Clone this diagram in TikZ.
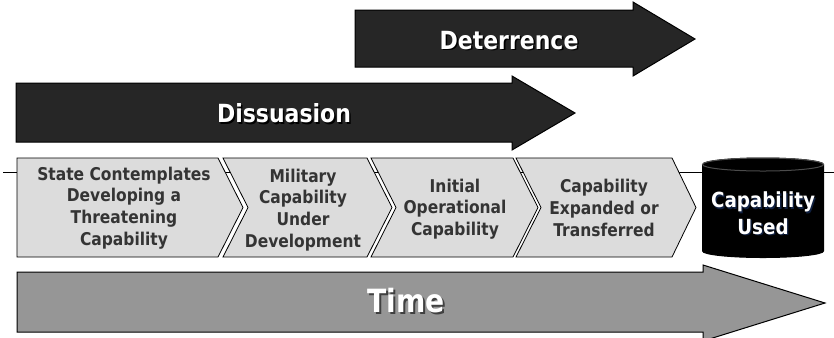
\documentclass[tikz,border=0pt]{standalone}
\usepackage{fontspec}
\setmainfont{DejaVu Sans}[FakeStretch=0.88]
\definecolor{arrowgray}{RGB}{38,38,38}
\definecolor{timegray}{RGB}{150,150,150}
\definecolor{boxgray}{RGB}{220,220,220}
\definecolor{boxtext}{RGB}{52,52,52}
\definecolor{navyedge}{RGB}{16,32,64}
\newcommand{\shadowed}[3]{\makebox[0pt][l]{\hspace*{#1}\raisebox{-#1}{\textcolor{#2}{#3}}}#3}

\tikzset{every picture/.style={line width=0.75pt}}

\begin{document}
\begin{tikzpicture}[x=0.75pt,y=0.75pt,yscale=-1,xscale=1,
    bigarrow/.style={draw=black,fill=arrowgray},
    timearrow/.style={draw=black,fill=timegray},
    chevron/.style={draw=black,fill=boxgray,line width=0.6pt},
    steplabel/.style={inner sep=0pt,align=center,text=boxtext,font=\bfseries\fontsize{13.2}{16.3}\selectfont},
    arrowlabel/.style={inner sep=0pt,text=white,font=\bfseries\fontsize{18.75}{22}\selectfont},
    timelabel/.style={inner sep=0pt,text=white,font=\bfseries\fontsize{24}{28}\selectfont},
    usedlabel/.style={inner sep=0pt,align=center,text=white,font=\bfseries\fontsize{15.6}{20}\selectfont}]
    \useasboundingbox (0,0) rectangle (834,337);

    %Straight Lines
    \draw    (3,172) -- (834,172) ;

    %Shape: Right Arrow
    \draw [bigarrow] (355,10) -- (633,10) -- (633,2) -- (695,39) -- (633,76) -- (633,67) -- (355,67) -- cycle ;
    %Shape: Right Arrow
    \draw [bigarrow] (16,83) -- (512,83) -- (512,76) -- (575,113) -- (512,150) -- (512,142) -- (16,142) -- cycle ;
    %Shape: Right Arrow
    \draw [timearrow] (17,272) -- (703,272) -- (703,265) -- (825,303) -- (703,341) -- (703,332) -- (17,332) -- cycle ;

    %Shape: Chevron
    \draw [chevron] (17,158) -- (218,158) -- (243,207.5) -- (218,257) -- (17,257) -- cycle ;
    %Shape: Chevron
    \draw [chevron] (223,158) -- (367,158) -- (392,207.5) -- (367,257) -- (223,257) -- (248,207.5) -- cycle ;
    %Shape: Chevron
    \draw [chevron] (371,158) -- (513,158) -- (538,207.5) -- (513,257) -- (371,257) -- (396,207.5) -- cycle ;
    %Shape: Chevron
    \draw [chevron] (516,158) -- (672,158) -- (696,207.5) -- (672,257) -- (516,257) -- (541,207.5) -- cycle ;

    %Shape: Can
    \draw [fill=black] (702.5,164.5) -- (702.5,251) arc [start angle=180,end angle=0,x radius=60.5,y radius=6.5] -- (823.5,164.5) arc [start angle=0,end angle=-180,x radius=60.5,y radius=6.5] -- cycle ;
    \draw [color=black!70] (763,164.5) ellipse [x radius=60.5,y radius=6.5] ;

    % Text Node
    \draw (124,208) node [steplabel] (state) {State Contemplates\\Developing a\\Threatening\\Capability};
    % Text Node
    \draw (303,210) node [steplabel] (military) {Military\\Capability\\Under\\Development};
    % Text Node
    \draw (455,209) node [steplabel] (initial) {Initial\\Operational\\Capability};
    % Text Node
    \draw (604,208) node [steplabel] (expanded) {Capability\\Expanded or\\Transferred};
    % Text Node
    \draw (763,214) node [usedlabel] (used) {\shadowed{1pt}{navyedge}{Capability}\\\shadowed{1pt}{navyedge}{Used}};
    % Text Node
    \draw (509,41) node [arrowlabel] (deterrence) {\shadowed{1.2pt}{black}{Deterrence}};
    % Text Node
    \draw (284,114) node [arrowlabel] (dissuasion) {\shadowed{1.2pt}{black}{Dissuasion}};
    % Text Node
    \draw (406,302) node [timelabel] (time) {\shadowed{1.5pt}{darkgray}{Time}};

\end{tikzpicture}
\end{document}
